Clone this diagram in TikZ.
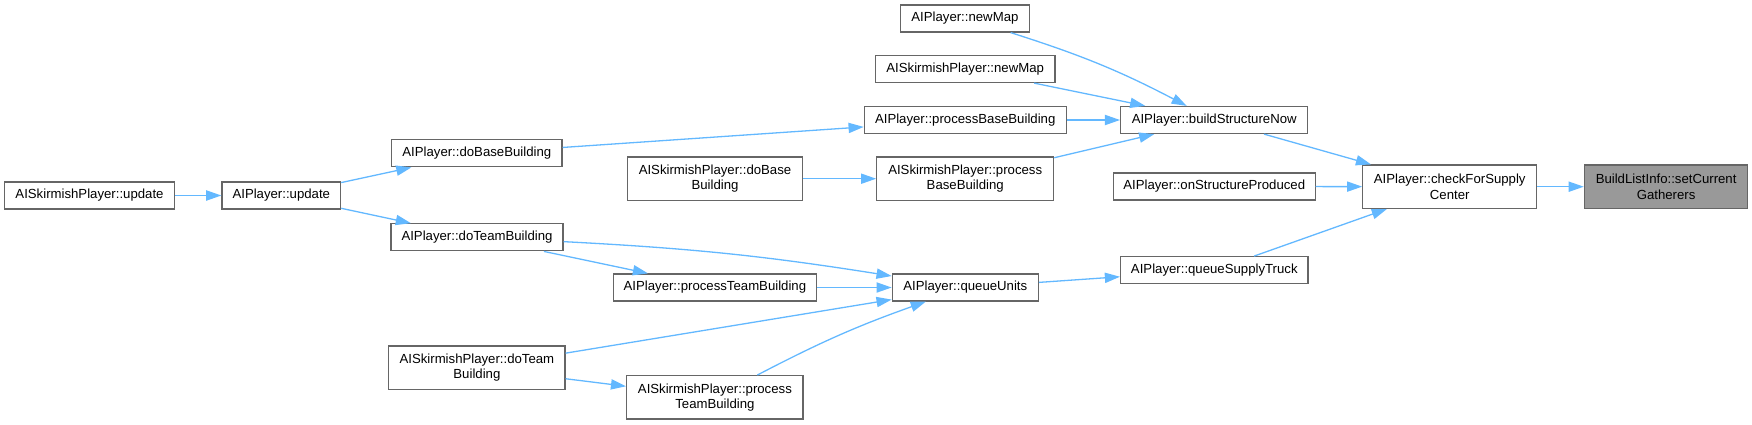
\documentclass[tikz,border=0pt]{standalone}
\usepackage{fontspec}
\setmainfont{Liberation Sans}
\usetikzlibrary{arrows.meta}
\definecolor{edgeblue}{HTML}{63B8FF}
\definecolor{boxgray}{HTML}{666666}
\definecolor{hlgray}{HTML}{999999}
\begin{document}
\begin{tikzpicture}[x=0.01cm, y=-0.01cm,
        >={Triangle[length=4.3pt, width=2.9pt]},
        fn/.style={draw=boxgray, fill=white, line width=0.35pt, inner sep=0pt, align=center,
            font=\fontsize{3.75pt}{4.35pt}\selectfont, minimum height=0.27cm},
        tall/.style={minimum height=0.433cm},
        call/.style={->, edgeblue, line width=0.37pt}]
        \useasboundingbox (0,0) rectangle (1752,424);

        % Functions, column by column from the left
        \node[fn, minimum width=1.70cm] (skupdate) at (89.5,195.5) {AISkirmishPlayer::update};
        \node[fn, minimum width=1.186cm] (update) at (281.3,195.5) {AIPlayer::update};
        \node[fn, minimum width=1.705cm] (dobase) at (476.8,153.3) {AIPlayer::doBaseBuilding};
        \node[fn, minimum width=1.72cm] (doteam) at (477,237.3) {AIPlayer::doTeamBuilding};
        \node[fn, tall, minimum width=1.762cm] (skdoteam) at (476.9,367.7) {AISkirmishPlayer::doTeam\\Building};
        \node[fn, tall, minimum width=1.745cm] (skdobase) at (715,178.7) {AISkirmishPlayer::doBase\\Building};
        \node[fn, minimum width=2.031cm] (procteam) at (714.9,287.5) {AIPlayer::processTeamBuilding};
        \node[fn, tall, minimum width=1.763cm] (skprocteam) at (714.9,397.3) {AISkirmishPlayer::process\\TeamBuilding};
        \node[fn, minimum width=1.29cm] (newmap) at (964.9,18.5) {AIPlayer::newMap};
        \node[fn, minimum width=1.796cm] (sknewmap) at (965.2,69) {AISkirmishPlayer::newMap};
        \node[fn, minimum width=2.017cm] (procbase) at (965.2,120) {AIPlayer::processBaseBuilding};
        \node[fn, tall, minimum width=1.768cm] (skprocbase) at (965.2,178.7) {AISkirmishPlayer::process\\BaseBuilding};
        \node[fn, minimum width=1.46cm] (queueunits) at (965.3,287.5) {AIPlayer::queueUnits};
        \node[fn, minimum width=1.87cm] (buildnow) at (1214.2,120) {AIPlayer::buildStructureNow};
        \node[fn, minimum width=2.017cm] (onproduced) at (1214.2,186.5) {AIPlayer::onStructureProduced};
        \node[fn, minimum width=1.873cm] (supplytruck) at (1214.3,270.2) {AIPlayer::queueSupplyTruck};
        \node[fn, tall, minimum width=1.738cm] (checksupply) at (1449.7,186.7) {AIPlayer::checkForSupply\\Center};
        \node[fn, tall, minimum width=1.634cm, fill=hlgray] (gatherers) at (1666.1,186.7) {BuildListInfo::setCurrent\\Gatherers};

        % Calls
        \draw[call] (skupdate) -- (update);
        \draw[call] (update) -- (dobase);
        \draw[call] (update) -- (doteam);
        \draw[call] (dobase) -- (procbase);
        \draw[call] (doteam) to[bend left=3] (queueunits);
        \draw[call] (doteam) -- (procteam);
        \draw[call] (skdoteam) -- (queueunits);
        \draw[call] (skdoteam) -- (skprocteam);
        \draw[call] (skdobase) -- (skprocbase);
        \draw[call] (procteam) -- (queueunits);
        \draw[call] (skprocteam) to[bend left=4] (queueunits);
        \draw[call] (newmap) to[bend left=5] (buildnow);
        \draw[call] (sknewmap) -- (buildnow);
        \draw[call] (procbase) -- (buildnow);
        \draw[call] (skprocbase) -- (buildnow);
        \draw[call] (queueunits) -- (supplytruck);
        \draw[call] (buildnow) -- (checksupply);
        \draw[call] (onproduced) -- (checksupply);
        \draw[call] (supplytruck) -- (checksupply);
        \draw[call] (checksupply) -- (gatherers);
    \end{tikzpicture}
\end{document}
